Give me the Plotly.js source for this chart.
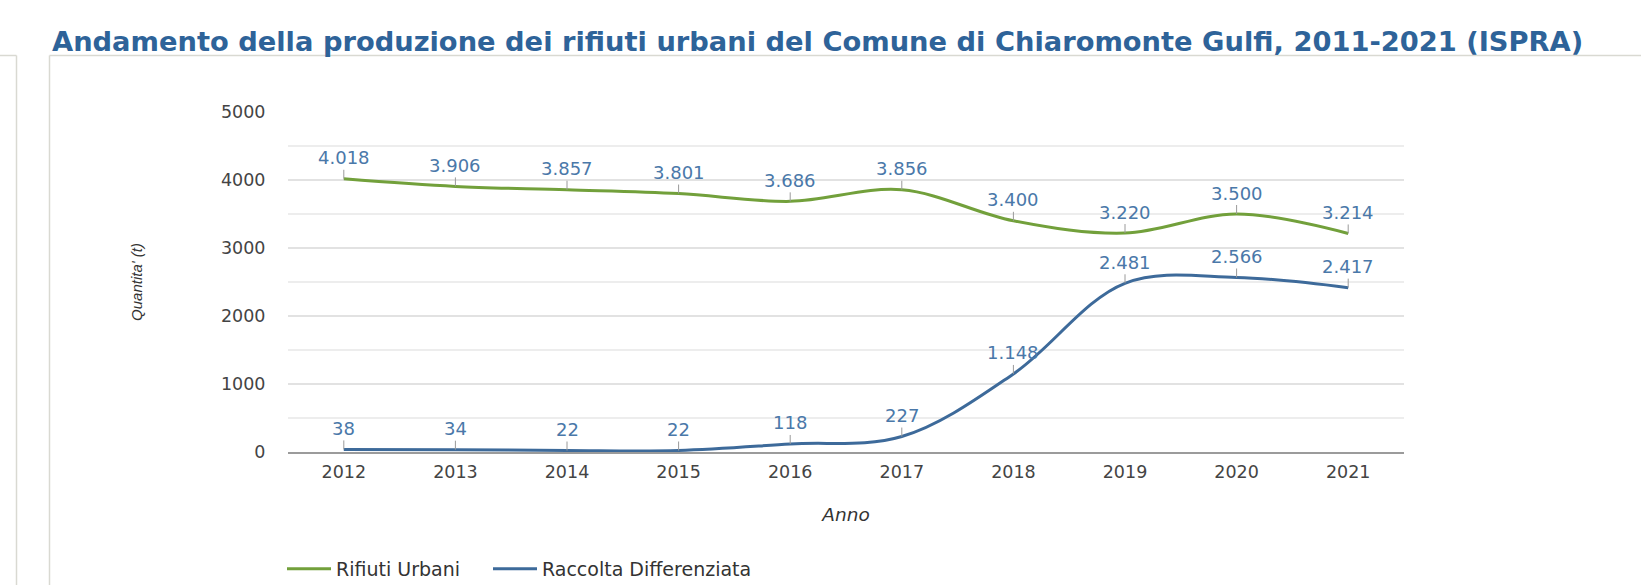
<!DOCTYPE html>
<html>
<head>
<meta charset="utf-8">
<script src="https://cdn.plot.ly/plotly-3.0.1.min.js"></script>
<style>
html,body{margin:0;padding:0;background:#fff;}
#chart{width:1641px;height:585px;}
#err{position:absolute;left:300px;top:300px;color:red;font:14px sans-serif;}
</style>
</head>
<body>
<div id="chart"></div>
<div id="err"></div>
<script>
window.onerror = function(m){ document.getElementById("err").textContent += " ERR: " + m; };
// ---- data ----
const anni = ["2012","2013","2014","2015","2016","2017","2018","2019","2020","2021"];
const rifiutiUrbani = [4018, 3906, 3857, 3801, 3686, 3856, 3400, 3220, 3500, 3214];
const raccoltaDifferenziata = [38, 34, 22, 22, 118, 227, 1148, 2481, 2566, 2417];
const nomiSerie = ["Rifiuti Urbani", "Raccolta Differenziata"];
const yTicks = [0, 1000, 2000, 3000, 4000, 5000];

// ---- layout geometry (pixels) ----
const W = 1641, H = 585;
const L = 288, R = 1404, T = 112, B = 452;
const pw = R - L, ph = B - T;
const px = v => (v - L) / pw;   // page x -> paper
const py = v => (B - v) / ph;   // page y -> paper

const FONT = "DejaVu Sans";
const GREEN = "#72a03b";
const BLUE = "#3d6a9a";
const LABEL = "#4a78a9";

function itFmt(v){ return String(v).replace(/\B(?=(\d{3})+(?!\d))/g, "."); }

const traces = [
  {x: anni, y: rifiutiUrbani, name: nomiSerie[0], type: "scatter", mode: "lines", legend: "legend",
   line: {color: GREEN, width: 3, shape: "spline", smoothing: 1}},
  {x: anni, y: raccoltaDifferenziata, name: nomiSerie[1], type: "scatter", mode: "lines", legend: "legend2",
   line: {color: BLUE, width: 3, shape: "spline", smoothing: 1}}
];

const annotations = [];
[rifiutiUrbani, raccoltaDifferenziata].forEach(function(serie){
  serie.forEach(function(v, i){
    annotations.push({
      x: i, y: v, xref: "x", yref: "y",
      text: itFmt(v), showarrow: true, arrowhead: 0, arrowwidth: 1,
      arrowcolor: "#9a9a9a", ax: 0, ay: -21,
      font: {family: FONT, size: 18, color: LABEL}
    });
  });
});

const frame = "#d9d9d2";
const shapes = [
  {type: "line", xref: "paper", yref: "paper", x0: px(49.5), x1: px(1641), y0: py(55.5), y1: py(55.5), line: {color: frame, width: 1.5}},
  {type: "line", xref: "paper", yref: "paper", x0: px(49.5), x1: px(49.5), y0: py(55.5), y1: py(585), line: {color: frame, width: 1.5}},
  {type: "line", xref: "paper", yref: "paper", x0: px(0), x1: px(16.5), y0: py(55.5), y1: py(55.5), line: {color: frame, width: 1.5}},
  {type: "line", xref: "paper", yref: "paper", x0: px(16.5), x1: px(16.5), y0: py(55.5), y1: py(585), line: {color: frame, width: 1.5}}
];

const legendBase = {
  orientation: "h", xref: "container", yref: "container", xanchor: "left",
  y: 1 - 569 / H, yanchor: "middle", itemwidth: 44,
  font: {family: FONT, size: 19, color: "#333333"},
  bgcolor: "rgba(0,0,0,0)"
};

const layout = {
  width: W, height: H,
  margin: {l: L, r: W - R, t: T, b: H - B, pad: 0},
  paper_bgcolor: "#ffffff", plot_bgcolor: "#ffffff",
  title: {
    text: "<b>Andamento della produzione dei rifiuti urbani del Comune di Chiaromonte Gulfi, 2011-2021 (ISPRA)</b>",
    font: {family: "DejaVu Sans", size: 27.3, color: "#2e6399"},
    xref: "container", yref: "container", x: 52 / W, xanchor: "left",
    y: 1 - 41 / H, yanchor: "middle"
  },
  xaxis: {
    type: "category", range: [-0.5, 9.5], fixedrange: true,
    showgrid: false, zeroline: false,
    showline: true, linecolor: "#9b9b9b", linewidth: 2,
    ticks: "outside", ticklen: 3, tickcolor: "rgba(0,0,0,0)",
    tickfont: {family: FONT, size: 17.5, color: "#444444"},
    title: {text: "<i>Anno</i>", font: {family: FONT, size: 18.5, color: "#333333"}, standoff: 27},
    automargin: false
  },
  yaxis: {
    range: [0, 5000], fixedrange: true,
    tickvals: yTicks, ticktext: yTicks.map(String),
    showgrid: true, gridcolor: "#e2e2e2", gridwidth: 1.5, zeroline: false,
    minor: {dtick: 500, tick0: 0, showgrid: true, gridcolor: "#ededed", gridwidth: 1.5, ticks: ""},
    ticks: "outside", ticklen: 18, tickcolor: "rgba(0,0,0,0)",
    tickfont: {family: FONT, size: 17.5, color: "#444444"},
    title: {text: "<i>Quantita' (t)</i>", font: {family: "Liberation Sans", size: 15, color: "#333333"}, standoff: 74},
    automargin: false
  },
  showlegend: true,
  legend: Object.assign({}, legendBase, {x: 282 / W}),
  legend2: Object.assign({}, legendBase, {x: 488 / W}),
  annotations: annotations,
  shapes: shapes,
  hovermode: false
};

Plotly.newPlot("chart", traces, layout, {displayModeBar: false}).catch(function(e){
  document.getElementById("err").textContent += " PERR: " + e;
});
</script>
</body>
</html>
